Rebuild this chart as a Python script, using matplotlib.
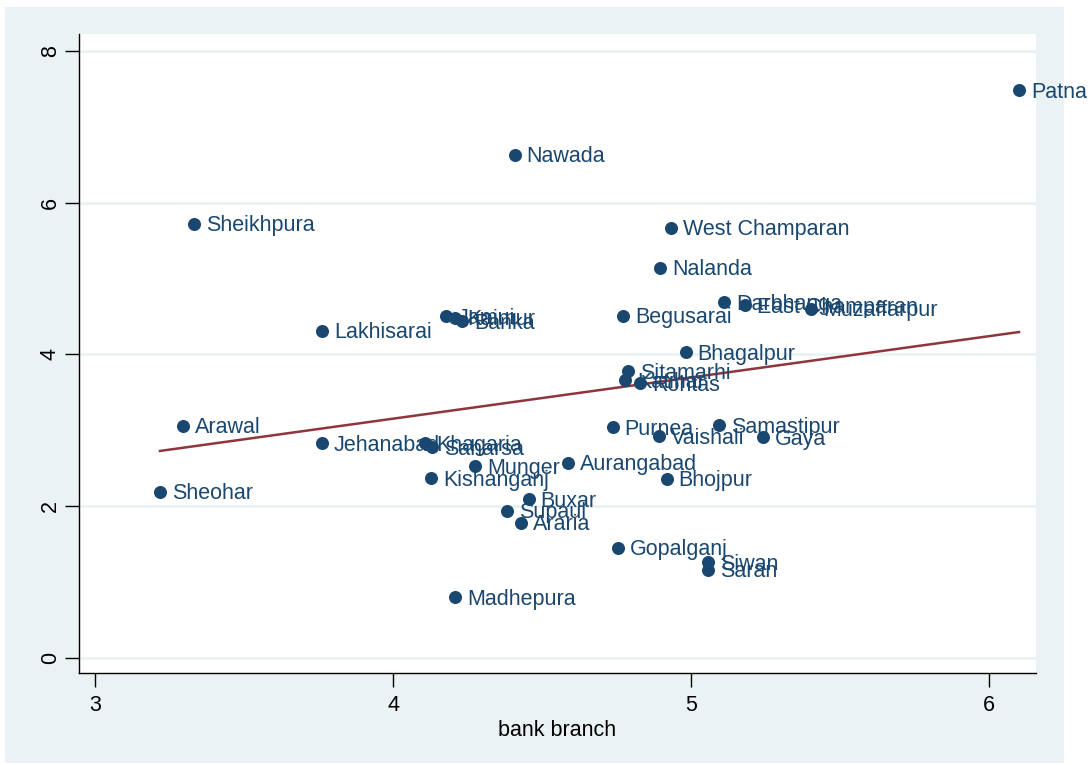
import numpy as np
import matplotlib
matplotlib.use("Agg")
import matplotlib.pyplot as plt
from matplotlib.patches import Rectangle

plt.rcParams['font.family'] = ['Liberation Sans', 'DejaVu Sans']

districts = ["Patna", "Nawada", "Sheikhpura", "West Champaran", "Nalanda",
             "Darbhanga", "East Champaran", "Muzaffarpur", "Lakhisarai",
             "Jamui", "Kaimur", "Banka", "Begusarai", "Bhagalpur", "Sitamarhi",
             "Katihar", "Rohtas", "Arawal", "Jehanabad", "Khagaria", "Saharsa",
             "Purnea", "Samastipur", "Vaishali", "Gaya", "Munger", "Aurangabad",
             "Kishanganj", "Bhojpur", "Sheohar", "Buxar", "Supaul", "Araria",
             "Gopalganj", "Siwan", "Saran", "Madhepura"]
bank_branch = [6.101, 4.409, 3.332, 4.933, 4.896,
               5.111, 5.181, 5.403, 3.762,
               4.178, 4.208, 4.232, 4.772, 4.983, 4.789,
               4.779, 4.829, 3.295, 3.762, 4.107, 4.131,
               4.738, 5.094, 4.893, 5.242, 4.275, 4.587,
               4.128, 4.919, 3.218, 4.456, 4.383, 4.430,
               4.755, 5.057, 5.057, 4.208]
outcome = [7.48, 6.63, 5.72, 5.67, 5.14,
           4.69, 4.65, 4.60, 4.31,
           4.50, 4.48, 4.44, 4.51, 4.03, 3.78,
           3.66, 3.62, 3.06, 2.83, 2.83, 2.78,
           3.04, 3.07, 2.92, 2.91, 2.53, 2.57,
           2.37, 2.36, 2.19, 2.09, 1.94, 1.78,
           1.45, 1.26, 1.16, 0.80]
x_ticks = [3, 4, 5, 6]
y_ticks = [0, 2, 4, 6, 8]
x_label = "bank branch"

navy = '#1a476f'
maroon = '#90353b'
bg = '#eaf2f3'

fig = plt.figure(figsize=(10.92, 7.65), dpi=100)
fig.patch.set_facecolor('white')
fig.add_artist(Rectangle((5/1092, 2/765), (1064-5)/1092, (763-7)/765,
                         transform=fig.transFigure, facecolor=bg,
                         edgecolor='none', zorder=0))

ax = fig.add_axes([79/1092, 92/765, (1036-79)/1092, (673-34)/765])
ax.set_facecolor('white')
ax.set_zorder(1)

x = np.array(bank_branch)
y = np.array(outcome)
ax.scatter(x, y, s=88, color=navy, zorder=3, linewidths=0)
for name, xi, yi in zip(districts, x, y):
    ax.annotate(name, (xi, yi), xytext=(8.5, -1.5), textcoords='offset points',
                ha='left', va='center', fontsize=15.5, color=navy,
                annotation_clip=False, zorder=4)

b, a = np.polyfit(x, y, 1)
xl = np.array([x.min(), x.max()])
ax.plot(xl, a + b * xl, color=maroon, linewidth=1.8, zorder=2)

ax.set_xlim(2.946, 6.158)
ax.set_ylim(-0.198, 8.22)
ax.set_xticks(x_ticks)
ax.set_yticks(y_ticks)
ax.set_xticklabels([str(t) for t in x_ticks], fontsize=15.5)
ax.set_yticklabels([str(t) for t in y_ticks], fontsize=15.5, rotation=90, va='center')
ax.tick_params(axis='both', direction='out', length=10, width=1, color='black')
ax.tick_params(axis='x', pad=6)
ax.tick_params(axis='y', pad=3)
ax.grid(axis='y', color=bg, linewidth=2)
ax.set_axisbelow(True)
for s in ['top', 'right']:
    ax.spines[s].set_visible(False)
for s in ['left', 'bottom']:
    ax.spines[s].set_color('black')
    ax.spines[s].set_linewidth(1)
ax.set_xlabel(x_label, fontsize=15.5, labelpad=3)

fig.savefig('out.png', dpi=100)
